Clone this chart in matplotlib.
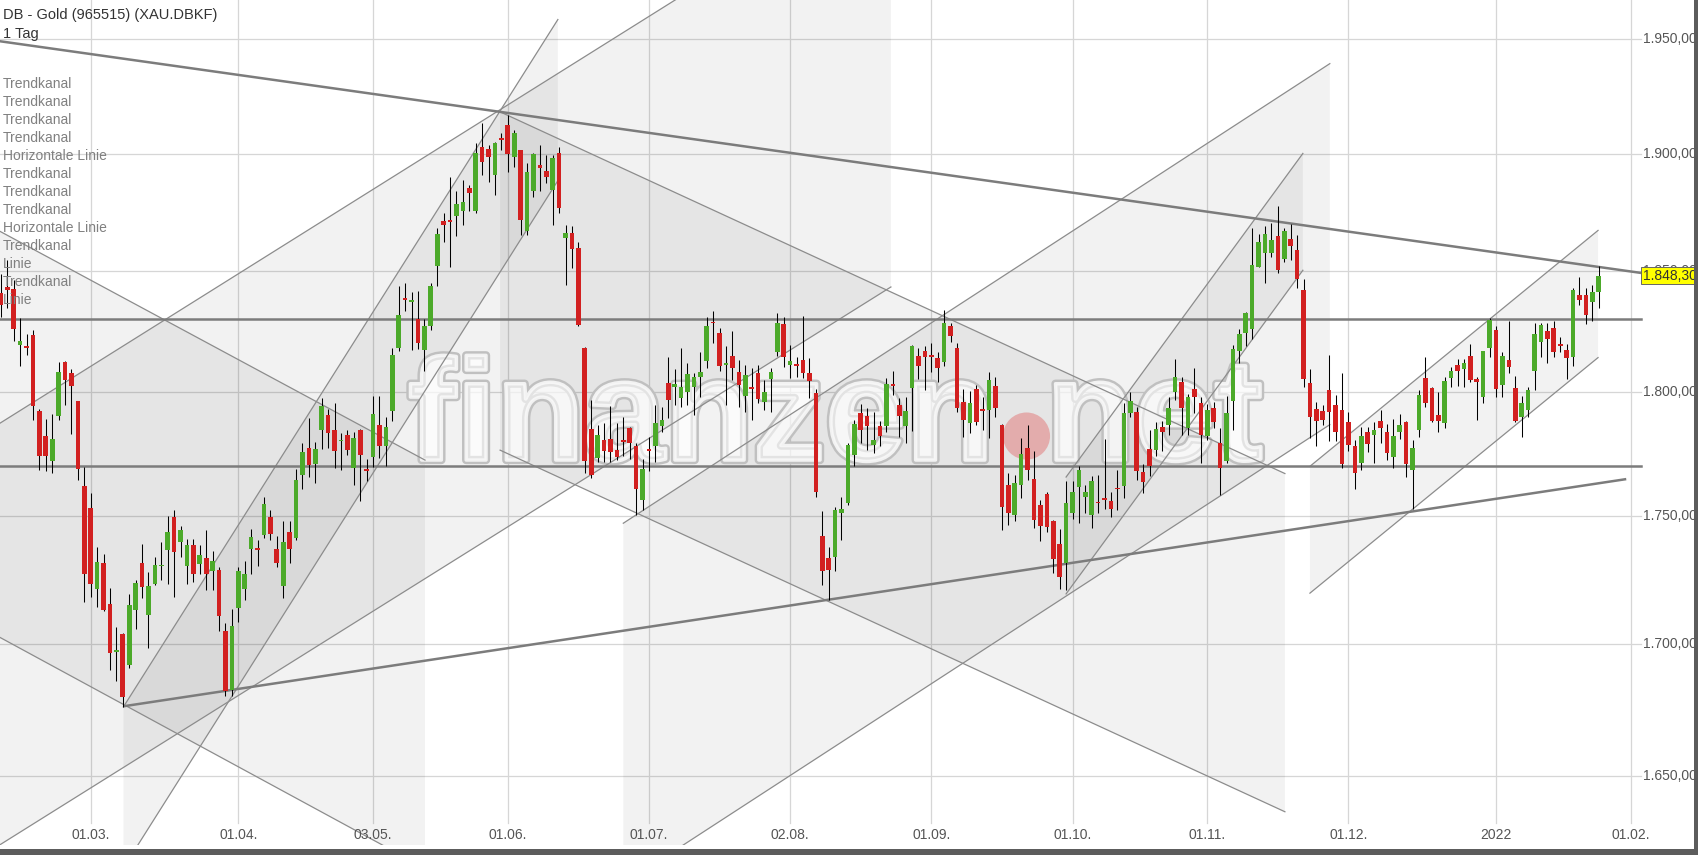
import numpy as np
import pandas as pd
import matplotlib
matplotlib.use("Agg")
import matplotlib.pyplot as plt
import matplotlib.patheffects as pe
from matplotlib.patches import Polygon, Rectangle

# ---------------- data ----------------
dates = pd.bdate_range("2021-02-09", "2022-01-25")
dates = dates[dates != pd.Timestamp("2021-04-02")]

open_ = [1841.0, 1843.4, 1842.6, 1819.2, 1818.5, 1823.5, 1792.4, 1782.3, 1772.0, 1790.5,
         1812.2, 1807.7, 1796.4, 1762.3, 1753.2, 1721.4, 1731.6, 1715.4, 1697.0, 1703.8,
         1691.9, 1713.3, 1731.6, 1711.2, 1723.4, 1730.3, 1736.7, 1749.8, 1740.0, 1730.3,
         1738.8, 1731.3, 1733.6, 1728.3, 1728.7, 1705.0, 1682.6, 1713.9, 1721.6, 1737.0,
         1737.2, 1742.7, 1749.8, 1737.3, 1722.6, 1743.7, 1741.4, 1766.4, 1777.2, 1771.0,
         1784.5, 1790.8, 1784.7, 1780.0, 1782.7, 1769.5, 1784.7, 1768.6, 1773.8, 1786.8,
         1778.0, 1792.2, 1818.2, 1838.5, 1837.2, 1830.1, 1817.3, 1827.3, 1852.4, 1871.1,
         1871.2, 1873.6, 1875.6, 1885.3, 1875.6, 1903.1, 1902.0, 1891.0, 1906.5, 1912.6,
         1898.8, 1901.6, 1867.0, 1884.1, 1895.2, 1892.8, 1884.6, 1900.5, 1864.1, 1866.2,
         1859.8, 1818.1, 1785.0, 1773.2, 1780.6, 1780.9, 1776.4, 1780.2, 1785.5, 1778.0,
         1756.5, 1776.5, 1778.0, 1786.1, 1803.6, 1802.0, 1797.7, 1800.2, 1802.2, 1806.2,
         1813.0, 1828.7, 1824.3, 1811.3, 1814.9, 1808.2, 1798.4, 1801.7, 1807.8, 1796.1,
         1805.6, 1816.4, 1828.0, 1811.2, 1811.1, 1813.3, 1807.8, 1799.8, 1742.4, 1733.4,
         1733.9, 1751.2, 1755.4, 1774.5, 1791.5, 1790.4, 1778.6, 1786.4, 1786.1, 1802.9,
         1794.8, 1786.4, 1801.8, 1814.9, 1817.0, 1814.8, 1814.0, 1812.4, 1827.1, 1818.1,
         1796.1, 1787.4, 1801.5, 1792.7, 1792.8, 1802.4, 1786.8, 1762.5, 1750.5, 1762.6,
         1777.4, 1764.9, 1754.5, 1758.8, 1748.2, 1738.9, 1731.6, 1751.5, 1761.8, 1757.8,
         1750.5, 1755.6, 1756.9, 1756.2, 1761.2, 1762.3, 1791.5, 1792.1, 1767.6, 1776.9,
         1776.4, 1785.7, 1786.5, 1800.2, 1804.2, 1785.5, 1801.5, 1795.7, 1782.3, 1793.5,
         1779.4, 1772.0, 1796.6, 1817.1, 1824.2, 1826.2, 1852.0, 1857.9, 1857.6, 1865.0,
         1855.1, 1863.7, 1859.1, 1842.3, 1803.8, 1793.0, 1792.4, 1800.8, 1794.8, 1792.8,
         1787.7, 1778.0, 1771.2, 1783.8, 1782.7, 1788.4, 1783.7, 1773.8, 1784.0, 1787.7,
         1768.7, 1784.5, 1805.8, 1801.8, 1790.8, 1787.4, 1805.9, 1811.0, 1809.4, 1814.9,
         1805.6, 1797.9, 1818.1, 1825.4, 1803.0, 1813.1, 1801.8, 1789.9, 1792.8, 1808.7,
         1820.7, 1825.1, 1826.5, 1819.5, 1817.3, 1814.4, 1840.2, 1840.2, 1837.4, 1841.6]
high = [1849.0, 1854.7, 1846.4, 1830.5, 1824.0, 1825.7, 1793.0, 1789.0, 1791.2, 1812.3,
        1812.8, 1809.6, 1796.4, 1769.6, 1759.4, 1738.0, 1735.0, 1722.0, 1706.8, 1704.5,
        1719.4, 1725.0, 1739.0, 1728.0, 1734.0, 1740.0, 1750.0, 1752.4, 1746.2, 1741.0,
        1741.2, 1738.6, 1744.7, 1736.5, 1730.0, 1708.3, 1713.7, 1729.9, 1732.5, 1745.0,
        1740.6, 1757.6, 1752.4, 1742.4, 1748.3, 1748.0, 1769.0, 1779.4, 1789.4, 1779.6,
        1797.5, 1793.0, 1795.5, 1783.4, 1784.7, 1784.0, 1784.9, 1773.0, 1798.4, 1798.4,
        1790.0, 1818.3, 1843.7, 1845.0, 1841.5, 1842.0, 1830.1, 1845.0, 1868.3, 1874.7,
        1890.0, 1883.9, 1888.8, 1886.7, 1904.6, 1913.3, 1903.8, 1905.3, 1909.0, 1916.9,
        1910.4, 1901.8, 1896.0, 1900.2, 1903.8, 1899.5, 1899.5, 1903.1, 1869.6, 1869.2,
        1862.6, 1818.5, 1796.8, 1786.8, 1787.4, 1794.4, 1787.4, 1790.0, 1786.0, 1779.4,
        1773.0, 1782.0, 1794.8, 1794.0, 1814.6, 1809.4, 1818.1, 1811.8, 1807.7, 1816.4,
        1831.0, 1833.4, 1826.4, 1818.8, 1825.0, 1813.3, 1811.1, 1809.8, 1811.1, 1805.0,
        1809.8, 1832.6, 1831.0, 1819.5, 1814.6, 1831.3, 1814.2, 1801.5, 1752.1, 1737.9,
        1753.8, 1757.9, 1779.4, 1788.8, 1795.2, 1793.7, 1792.1, 1788.1, 1806.0, 1808.8,
        1797.5, 1798.1, 1819.5, 1818.1, 1819.0, 1820.2, 1816.7, 1833.8, 1828.3, 1820.2,
        1801.5, 1800.4, 1803.1, 1798.1, 1808.2, 1806.2, 1787.0, 1767.3, 1766.6, 1781.4,
        1786.8, 1776.2, 1756.7, 1759.8, 1748.6, 1744.9, 1764.1, 1764.0, 1770.2, 1762.5,
        1766.0, 1766.6, 1781.1, 1759.8, 1768.7, 1795.5, 1800.2, 1794.0, 1771.0, 1784.7,
        1787.7, 1788.1, 1798.1, 1813.5, 1806.2, 1799.1, 1809.8, 1798.1, 1795.2, 1796.1,
        1785.5, 1798.4, 1819.5, 1826.2, 1833.1, 1868.3, 1865.8, 1869.1, 1870.4, 1877.5,
        1868.3, 1869.9, 1865.5, 1846.7, 1809.4, 1796.1, 1794.8, 1815.4, 1798.8, 1808.0,
        1792.1, 1780.5, 1785.9, 1786.0, 1787.7, 1792.8, 1787.2, 1789.0, 1791.2, 1788.1,
        1780.6, 1800.8, 1814.4, 1802.2, 1800.2, 1806.2, 1810.3, 1813.7, 1813.5, 1819.9,
        1806.2, 1817.0, 1830.6, 1827.4, 1816.7, 1829.5, 1806.6, 1798.4, 1802.2, 1828.4,
        1828.4, 1828.5, 1829.2, 1822.7, 1819.9, 1843.0, 1847.5, 1843.0, 1844.4, 1852.3]
low = [1831.0, 1834.7, 1821.0, 1810.6, 1815.3, 1788.8, 1768.7, 1768.0, 1767.2, 1788.5,
       1794.8, 1782.9, 1764.5, 1716.4, 1718.3, 1714.5, 1713.0, 1690.0, 1686.0, 1676.0,
       1690.8, 1706.0, 1718.0, 1698.4, 1723.0, 1725.0, 1723.4, 1718.3, 1734.0, 1723.4,
       1724.0, 1727.3, 1721.0, 1721.0, 1705.0, 1680.0, 1680.0, 1708.7, 1717.0, 1727.3,
       1730.5, 1741.4, 1740.7, 1730.0, 1717.8, 1731.6, 1740.7, 1761.0, 1765.7, 1763.4,
       1777.0, 1777.3, 1769.5, 1768.7, 1774.5, 1762.5, 1756.0, 1764.0, 1769.8, 1773.3,
       1770.3, 1788.1, 1816.8, 1833.3, 1817.3, 1817.6, 1808.8, 1825.7, 1843.7, 1862.6,
       1852.0, 1864.8, 1869.6, 1875.6, 1874.9, 1891.0, 1888.0, 1882.5, 1901.6, 1892.4,
       1894.5, 1865.5, 1865.5, 1881.7, 1883.9, 1887.5, 1869.6, 1874.6, 1844.4, 1851.3,
       1827.1, 1767.3, 1765.5, 1771.8, 1771.8, 1771.8, 1772.5, 1774.0, 1773.0, 1750.5,
       1752.5, 1768.0, 1771.8, 1784.0, 1789.5, 1794.8, 1794.0, 1794.8, 1790.7, 1798.2,
       1809.9, 1820.2, 1808.8, 1794.8, 1805.0, 1794.0, 1792.1, 1788.8, 1795.5, 1792.8,
       1792.1, 1814.7, 1810.4, 1805.7, 1806.4, 1805.7, 1797.5, 1757.9, 1723.0, 1717.1,
       1728.4, 1740.8, 1754.5, 1770.3, 1779.4, 1776.5, 1775.3, 1778.0, 1783.7, 1798.8,
       1782.0, 1779.4, 1784.1, 1805.6, 1800.8, 1808.2, 1804.2, 1810.6, 1820.7, 1792.1,
       1781.8, 1783.4, 1786.8, 1784.7, 1781.4, 1790.1, 1744.6, 1746.6, 1748.3, 1757.3,
       1764.4, 1745.3, 1740.1, 1744.0, 1727.8, 1721.6, 1721.0, 1748.8, 1747.3, 1751.2,
       1745.3, 1751.2, 1753.0, 1749.6, 1752.7, 1757.3, 1790.1, 1764.6, 1759.4, 1766.3,
       1774.0, 1776.0, 1782.7, 1796.8, 1782.7, 1782.7, 1791.5, 1771.3, 1780.7, 1785.5,
       1758.6, 1771.3, 1784.7, 1812.1, 1819.0, 1822.0, 1851.7, 1845.1, 1856.0, 1849.2,
       1854.1, 1854.8, 1843.0, 1802.3, 1781.4, 1778.0, 1786.8, 1780.3, 1780.3, 1769.5,
       1776.0, 1761.0, 1768.6, 1775.9, 1771.5, 1779.4, 1772.5, 1769.4, 1781.0, 1765.9,
       1753.1, 1781.8, 1794.0, 1787.7, 1784.0, 1785.5, 1802.2, 1802.6, 1802.3, 1804.2,
       1788.8, 1795.7, 1814.6, 1797.9, 1798.1, 1807.9, 1787.7, 1782.0, 1789.9, 1800.8,
       1814.3, 1812.0, 1814.3, 1816.3, 1805.3, 1810.6, 1836.1, 1828.1, 1829.2, 1834.6]
close = [1836.0, 1842.3, 1826.0, 1821.1, 1818.3, 1794.5, 1774.3, 1774.3, 1781.1, 1808.3,
         1805.2, 1802.6, 1768.8, 1727.2, 1723.4, 1732.1, 1713.2, 1696.7, 1697.6, 1679.8,
         1715.3, 1723.8, 1722.1, 1722.7, 1730.8, 1730.7, 1744.0, 1735.8, 1744.6, 1738.8,
         1727.3, 1734.6, 1727.3, 1732.2, 1711.0, 1682.0, 1707.0, 1728.6, 1727.2, 1742.0,
         1736.8, 1755.1, 1743.0, 1731.6, 1739.7, 1737.3, 1764.4, 1775.6, 1770.6, 1776.8,
         1794.4, 1783.4, 1776.0, 1780.5, 1776.4, 1781.4, 1774.5, 1768.3, 1791.1, 1778.0,
         1785.8, 1815.4, 1831.8, 1838.2, 1837.5, 1820.2, 1827.3, 1843.7, 1865.8, 1869.4,
         1870.9, 1878.6, 1879.3, 1883.4, 1900.2, 1896.6, 1898.5, 1904.6, 1906.2, 1899.8,
         1909.0, 1871.6, 1892.4, 1899.8, 1893.8, 1890.0, 1898.1, 1876.8, 1866.2, 1859.4,
         1827.8, 1772.3, 1766.4, 1782.7, 1776.0, 1775.6, 1773.8, 1779.8, 1779.4, 1760.9,
         1769.1, 1776.1, 1787.4, 1788.8, 1796.8, 1803.3, 1802.2, 1807.3, 1806.2, 1808.3,
         1827.1, 1828.3, 1810.6, 1811.7, 1809.8, 1803.1, 1806.9, 1801.3, 1797.1, 1800.2,
         1808.3, 1828.5, 1814.4, 1812.8, 1810.9, 1807.8, 1804.5, 1759.9, 1728.4, 1728.7,
         1752.5, 1752.9, 1778.5, 1787.0, 1784.7, 1786.4, 1780.6, 1782.3, 1803.3, 1802.6,
         1790.4, 1792.4, 1819.0, 1810.6, 1814.6, 1814.5, 1809.8, 1828.4, 1823.3, 1793.4,
         1788.5, 1795.5, 1787.7, 1792.4, 1804.8, 1793.7, 1753.9, 1751.2, 1763.3, 1775.1,
         1768.4, 1748.6, 1746.2, 1745.9, 1733.1, 1726.1, 1755.3, 1759.8, 1768.4, 1759.8,
         1764.2, 1755.2, 1756.5, 1753.0, 1760.8, 1791.5, 1796.4, 1768.0, 1763.8, 1770.1,
         1785.1, 1783.8, 1793.5, 1806.2, 1793.5, 1797.9, 1798.1, 1782.7, 1792.8, 1787.7,
         1769.5, 1791.5, 1817.7, 1823.9, 1832.6, 1852.6, 1862.6, 1865.9, 1863.3, 1850.6,
         1866.9, 1860.9, 1846.9, 1805.3, 1790.1, 1788.1, 1788.5, 1792.1, 1783.7, 1770.9,
         1778.6, 1767.5, 1782.3, 1778.8, 1784.7, 1785.5, 1775.3, 1782.3, 1786.8, 1770.9,
         1777.4, 1798.8, 1795.7, 1788.4, 1788.1, 1804.4, 1808.5, 1808.7, 1812.1, 1804.9,
         1804.2, 1816.8, 1829.9, 1801.5, 1814.9, 1810.3, 1788.1, 1795.7, 1800.8, 1823.9,
         1827.8, 1822.0, 1816.3, 1819.1, 1814.0, 1842.3, 1837.9, 1831.8, 1841.6, 1848.3]

tick_dates = ["2021-03-01", "2021-04-01", "2021-05-03", "2021-06-01", "2021-07-01", "2021-08-02",
              "2021-09-01", "2021-10-01", "2021-11-01", "2021-12-01", "2022-01-03", "2022-02-01"]
tick_labels = ["01.03.", "01.04.", "03.05.", "01.06.", "01.07.", "02.08.",
               "01.09.", "01.10.", "01.11.", "01.12.", "2022", "01.02."]
price_ticks = [1650, 1700, 1750, 1800, 1850, 1900, 1950]

# drawn objects (x in trading-day number, Mar 1 2021 = 0; y in price)
resistance_line = ([-14.2, 250.5], [1949.2, 1846.0])
support_line = ([5.3, 239.1], [1676.3, 1764.8])
horizontal_lines = [1830.0, 1770.0]
# channels: (x_start, x_end, upper_start, upper_end, lower_start, lower_end)
channels = [
    (-14.2, 52.1, 1867.0, 1772.5, 1702.7, 1615.8),
    (-14.2, 124.7, 1787.3, 2028.8, 1624.3, 1843.5),
    (5.1, 72.8, 1676.0, 1958.8, 1615.9, 1888.5),
    (63.8, 186.1, 1918.2, 1767.1, 1776.5, 1636.6),
    (83.0, 193.1, 1747.3, 1939.3, 1610.0, 1786.8),
    (152.0, 188.9, 1765.7, 1900.2, 1719.5, 1850.5),
    (190.0, 234.9, 1770.0, 1867.3, 1719.8, 1814.2),
]
legend_items = ["Trendkanal", "Trendkanal", "Trendkanal", "Trendkanal", "Horizontale Linie",
                "Trendkanal", "Trendkanal", "Trendkanal", "Horizontale Linie", "Trendkanal",
                "Linie", "Trendkanal", "Linie"]
last_price = 1848.30

# ---------------- figure ----------------
W, H = 1698, 855
fig = plt.figure(figsize=(W / 100, H / 100), dpi=100)
fig.patch.set_facecolor("white")
PLOT_BOTTOM_PX = 845
ax = fig.add_axes([0, (H - PLOT_BOTTOM_PX) / H, 1, PLOT_BOTTOM_PX / H])
ax.set_yscale("log")

px_per_day = 6.417
x0_px = 90.7
def px_to_x(px):
    return (px - x0_px) / px_per_day

ymax = 1967.5
ymin = 1624.3
ax.set_xlim(px_to_x(0), px_to_x(W))
ax.set_ylim(ymin, ymax)
ax.axis("off")

xpos = np.arange(len(dates)) - 14
o = np.array(open_); h = np.array(high); l = np.array(low); c = np.array(close)

def to_pos(d):
    d = pd.Timestamp(d)
    n = np.busday_count(np.datetime64("2021-03-01"), np.datetime64(d.date()))
    if d > pd.Timestamp("2021-04-02"):
        n -= 1
    return n

tick_pos = [to_pos(d) for d in tick_dates]

# grid
x_grid_end = px_to_x(1641)
def px_to_price(py):
    return ymax * np.exp(-py / 4408.0)
for p in price_ticks:
    ax.plot([px_to_x(0), x_grid_end], [p, p], color="#d6d6d6", lw=0.9, zorder=0.5)
for tp in tick_pos:
    ax.plot([tp, tp], [px_to_price(823), ymax], color="#d6d6d6", lw=0.9, zorder=0.5)

# channels
for (xs, xe, us, ue, ls, le) in channels:
    poly = Polygon([(xs, us), (xe, ue), (xe, le), (xs, ls)], closed=True,
                   facecolor="black", alpha=0.05, edgecolor="none", zorder=1)
    ax.add_patch(poly)
    ax.plot([xs, xe], [us, ue], color="#8c8c8c", lw=0.9, zorder=2)
    ax.plot([xs, xe], [ls, le], color="#8c8c8c", lw=0.9, zorder=2)

# watermark
wm_fx = [pe.Stroke(linewidth=6, foreground="#c0c0c0"),
         pe.Stroke(linewidth=2.5, foreground="#f2f2f2"), pe.Normal()]
ax.text(px_to_x(408), px_to_price(460), "finanzen", fontsize=104, family="Liberation Sans",
        weight="bold", color=(1, 1, 1, 0.35), va="baseline", ha="left", zorder=1.5,
        path_effects=wm_fx)
ax.text(px_to_x(1046), px_to_price(460), "net", fontsize=104, family="Liberation Sans",
        weight="bold", color=(1, 1, 1, 0.35), va="baseline", ha="left", zorder=1.5,
        path_effects=wm_fx)
ax.scatter([px_to_x(1026.5)], [px_to_price(436)], s=1150, color="#e39a9a", alpha=0.75,
           edgecolors="none", zorder=1.6)

# thick lines
ax.plot(resistance_line[0], resistance_line[1], color="#7c7c7c", lw=1.8, zorder=2.2)
ax.plot(support_line[0], support_line[1], color="#7c7c7c", lw=1.8, zorder=2.2)
for hp in horizontal_lines:
    ax.plot([px_to_x(0), x_grid_end], [hp, hp], color="#7c7c7c", lw=1.8, zorder=2.2)

# candles
up = c >= o
ax.vlines(xpos, l, h, color="black", lw=0.75, zorder=3)
body_lo = np.minimum(o, c)
body_h = np.maximum(np.abs(c - o), 0.7)
ax.bar(xpos[up], body_h[up], bottom=body_lo[up], width=0.72, color="#4caa2a", zorder=3.5, linewidth=0)
ax.bar(xpos[~up], body_h[~up], bottom=body_lo[~up], width=0.72, color="#d22020", zorder=3.5, linewidth=0)

# y labels
lab_x = px_to_x(1643)
for p in price_ticks:
    s = f"{p:,.2f}".replace(",", "X").replace(".", ",").replace("X", ".")
    ax.text(lab_x, p, s, fontsize=10, color="#555555", va="center", ha="left",
            family=["Liberation Sans Narrow", "Liberation Sans"], zorder=4)
s = f"{last_price:,.2f}".replace(",", "X").replace(".", ",").replace("X", ".")
ax.text(lab_x, last_price, s, fontsize=10, color="#333333", va="center", ha="left",
        family=["Liberation Sans Narrow", "Liberation Sans"], zorder=5,
        bbox=dict(boxstyle="square,pad=0.12", facecolor="#ffff00", edgecolor="#666666", lw=0.7))

# x labels
for tp, tl in zip(tick_pos, tick_labels):
    ax.text(tp, px_to_price(835), tl, fontsize=10, color="#555555", va="center", ha="center",
            family=["Liberation Sans Narrow", "Liberation Sans"], zorder=4)

# top-left texts
fig.text(3 / W, 1 - 15.5 / H, "DB - Gold (965515) (XAU.DBKF)", fontsize=10.5, color="#333333",
         va="center", ha="left", family="Liberation Sans")
fig.text(3 / W, 1 - 34 / H, "1 Tag", fontsize=10.5, color="#333333",
         va="center", ha="left", family="Liberation Sans")
for k, name in enumerate(legend_items):
    fig.text(3 / W, 1 - (84 + 18 * k) / H, name, fontsize=10, color="#808080",
             va="center", ha="left", family="Liberation Sans")

# borders
fig.add_artist(Rectangle((1 - 4 / W, 0), 4 / W, 1, transform=fig.transFigure,
                         facecolor="#5c5c5c", edgecolor="none"))
fig.add_artist(Rectangle((0, 0), 1, 6 / H, transform=fig.transFigure,
                         facecolor="#5c5c5c", edgecolor="none"))

fig.savefig("out.png", dpi=100, facecolor="white")
